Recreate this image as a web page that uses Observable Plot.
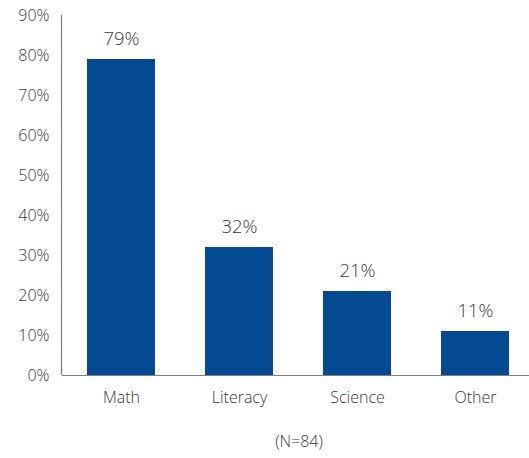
<!DOCTYPE html>
<html>
<head>
<meta charset="utf-8">
<script src="https://cdn.jsdelivr.net/npm/d3@7"></script>
<script src="https://cdn.jsdelivr.net/npm/@observablehq/plot@0.6"></script>
<style>
  html, body { margin: 0; padding: 0; background: #fff; }
  #wrap { position: relative; width: 529px; height: 458px; font-family: "Open Sans", sans-serif; font-weight: 350; }
  #caption { position: absolute; left: 62px; width: 474px; top: 430px; line-height: 22px; text-align: center; font-size: 16px; color: #383838; }
  svg text { font-weight: 350; }
</style>
</head>
<body>
<div id="wrap">
  <div id="chart"></div>
  <div id="caption">(N=84)</div>
</div>
<script>
const categories = ["Math", "Literacy", "Science", "Other"];
const values = [79, 32, 21, 11];
const yTicks = [0, 10, 20, 30, 40, 50, 60, 70, 80, 90];
const caption = "(N=84)";

const data = categories.map((c, i) => ({category: c, value: values[i]}));
const barColor = "#034a93";
const textColor = "#383838";

const chart = Plot.plot({
  width: 529,
  height: 415,
  marginTop: 15,
  marginBottom: 40,
  marginLeft: 62,
  marginRight: 0,
  style: {fontFamily: "'Open Sans', sans-serif", fontSize: "16px", color: textColor, background: "#fff"},
  x: {domain: categories, range: [61, 534], paddingInner: 0.425, paddingOuter: 0.2, label: null},
  y: {domain: [0, 90], label: null},
  marks: [
    Plot.barY(data, {x: "category", y: "value", fill: barColor}),
    Plot.axisY({ticks: yTicks, tickFormat: d => d + "%", tickSize: 0, tickPadding: 13, fontSize: 16, fill: textColor}),
    Plot.axisX({tickSize: 0, tickPadding: 16, fontSize: 16, fill: textColor, label: null}),
    Plot.ruleY([0], {stroke: "#7f7f7f", strokeWidth: 1.2}),
    Plot.text(data, {x: "category", y: "value", text: d => d.value + "%", dy: -20, fontSize: 18.5, fill: textColor})
  ]
});
document.getElementById("chart").appendChild(chart);

// left axis line drawn from the y scale
const ys = chart.scale("y");
const svg = d3.select(chart);
svg.append("line")
  .attr("x1", 61.5).attr("x2", 61.5)
  .attr("y1", ys.apply(90)).attr("y2", ys.apply(0))
  .attr("stroke", "#7f7f7f").attr("stroke-width", 1.2);
document.getElementById("caption").textContent = caption;
</script>
</body>
</html>
